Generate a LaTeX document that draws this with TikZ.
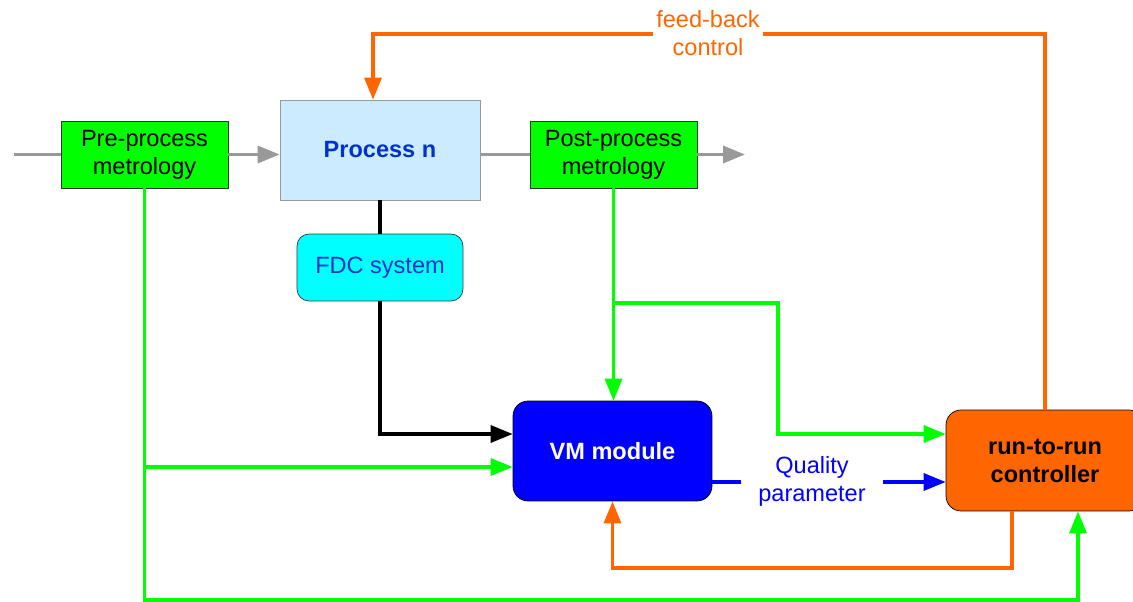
\documentclass[tikz,border=0pt]{standalone}
\usepackage{fontspec}
\setmainfont{Liberation Sans}
\usetikzlibrary{arrows.meta}

\definecolor{procblue}{HTML}{CCEBFF}
\definecolor{textblue}{HTML}{0033CC}
\definecolor{fdccyan}{HTML}{00FFFF}
\definecolor{vmblue}{HTML}{0000FF}
\definecolor{ctrlorange}{HTML}{FF6600}
\definecolor{metgreen}{HTML}{00FF00}
\definecolor{flowgrey}{HTML}{999999}

\tikzset{
  txt/.style = {font = \fontsize{13.4pt}{15.9pt}\selectfont, align = center, inner sep = 0pt},
  metbox/.style = {txt, draw = black!80, thin, fill = metgreen, minimum width = 3.34cm, minimum height = 1.34cm},
  tip/.style = {-{Triangle[length = 0.44cm, width = 0.34cm]}},
  flow/.style = {flowgrey, line width = 1.9pt},
  link/.style = {line width = 1.9pt}
}

\begin{document}
\begin{tikzpicture}[x = 0.02cm, y = -0.02cm]

\useasboundingbox ( 0, 0 ) rectangle ( 1133, 602 );

% Blocks
\node [metbox] (pre) at ( 144.5, 154.5 ) {Pre-process\\metrology};
\node [txt, draw = flowgrey, fill = procblue, text = textblue, font = \fontsize{13.4pt}{15.9pt}\selectfont\bfseries, minimum width = 4cm, minimum height = 2cm] (proc) at ( 380, 150 ) {Process n};
\node [metbox] (post) at ( 613.5, 154.5 ) {Post-process\\metrology};
\node [txt, draw = black!80, thin, fill = fdccyan, text = textblue, rounded corners = 0.24cm, minimum width = 3.32cm, minimum height = 1.34cm] (fdc) at ( 380, 267.5 ) {FDC system};
\node [txt, draw = black, thin, fill = vmblue, text = white, font = \fontsize{13.4pt}{15.9pt}\selectfont\bfseries, rounded corners = 0.3cm, minimum width = 3.98cm, minimum height = 2cm] (vm) at ( 612.5, 451 ) {VM module};
\node [txt, draw = black, thin, fill = ctrlorange, text = black, font = \fontsize{13.4pt}{15.9pt}\selectfont\bfseries, rounded corners = 0.3cm, minimum width = 3.96cm, minimum height = 2.02cm] (r2r) at ( 1045, 460.5 ) {run-to-run\\controller};

% Free ends and bends
\coordinate (in) at ( 14, 154.5 );
\coordinate (out) at ( 745, 154.5 );
\coordinate (fbtop) at ( 373, 34 );
\coordinate (bottom) at ( 0, 600 );
\coordinate (vmfdc) at ([yshift = 0.34cm] vm.west);
\coordinate (vmpre) at ([yshift = -0.32cm] vm.west);
\coordinate (vmq) at ([yshift = -0.62cm] vm.east);
\coordinate (r2rpost) at ([yshift = 0.53cm] r2r.west);
\coordinate (r2rpre) at ([xshift = 0.66cm] r2r.south);
\coordinate (r2rvm) at ([xshift = -0.66cm] r2r.south);
\coordinate (split) at ( 778, 303 );
\coordinate (back) at ( 0, 568 );

% Process line
\draw [flow] (in) -- (pre.west);
\draw [flow, tip] (pre.east) -- (pre.east -| proc.west);
\draw [flow] (post.west -| proc.east) -- (post.west);
\draw [flow, tip] (post.east) -- (out);

% Feed-back
\draw [link, ctrlorange, tip] (r2r.north) |- (fbtop) -- (fbtop |- proc.north);
\node [txt, fill = white, text = ctrlorange, inner xsep = 2pt] (fb) at ( 708, 33 ) {feed-back\\control};

% FDC
\draw [link] (proc.south) -- (fdc.north);
\draw [link, tip] (fdc.south) |- (vmfdc);

% Metrology
\draw [link, metgreen, tip] (pre.south) |- (bottom -| r2rpre) -- (r2rpre);
\draw [link, metgreen, tip] (pre.south |- vmpre) -- (vmpre);
\draw [link, metgreen, tip] (post.south) -- (post.south |- vm.north);
\draw [link, metgreen, tip] (post.south |- split) -- (split) |- (r2rpost);

% Quality parameter
\draw [link, vmblue, tip] (vmq) -- (vmq -| r2r.west);
\node [txt, fill = white, text = vmblue, inner xsep = 10pt, inner ysep = 2pt] (q) at ( 812, 481 ) {Quality\\parameter};

% Back to VM
\draw [link, ctrlorange, tip] (r2rvm) |- (back -| vm.south) -- (vm.south);

\end{tikzpicture}
\end{document}
